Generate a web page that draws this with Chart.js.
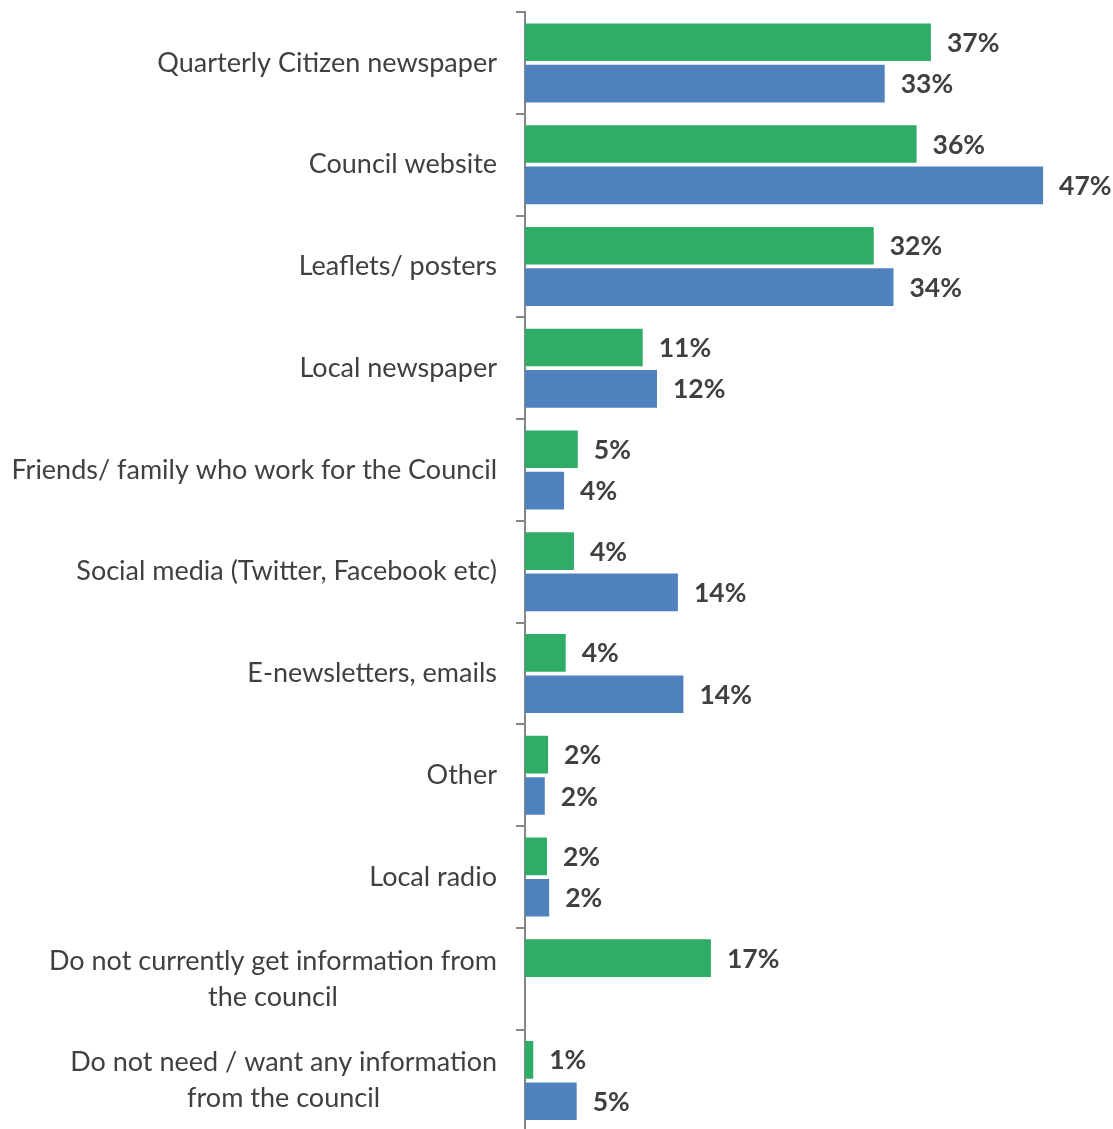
<!DOCTYPE html>
<html>
<head>
<meta charset="utf-8">
<script src="https://cdn.jsdelivr.net/npm/chart.js@4.4.1/dist/chart.umd.min.js"></script>
<style>
  html, body { margin: 0; padding: 0; background: #ffffff; overflow: hidden; }
  #wrap { width: 1113px; height: 1140px; }
</style>
</head>
<body>
<div id="wrap"><canvas id="c" width="1113" height="1140"></canvas></div>
<script>
const categories = [
  'Quarterly Citizen newspaper',
  'Council website',
  'Leaflets/ posters',
  'Local newspaper',
  'Friends/ family who work for the Council',
  'Social media (Twitter, Facebook etc)',
  'E-newsletters, emails',
  'Other',
  'Local radio',
  ['Do not currently get information from', 'the council'],
  ['Do not need / want any information', 'from the council']
];
const greenValues = [36.9, 35.6, 31.7, 10.7, 4.8, 4.45, 3.7, 2.1, 2.0, 16.9, 0.75];
const blueValues  = [32.7, 47.1, 33.5, 12.0, 3.55, 13.9, 14.4, 1.8, 2.2, null, 4.7];

const GREEN = '#2FAD66';
const BLUE = '#4F81BD';
const TEXT = '#404040';
const AXIS = '#868686';
const FONT = 'Lato, "Open Sans", sans-serif';
const TICK_LEN = 9;
const TICK_PAD = 19;
const LABEL_SIZE = 27;
const LINE_H = 36;

const valueLabels = {
  id: 'valueLabels',
  afterDatasetsDraw(chart) {
    const ctx = chart.ctx;
    ctx.save();
    ctx.font = 'bold 26.5px ' + FONT;
    ctx.fillStyle = TEXT;
    ctx.textAlign = 'left';
    ctx.textBaseline = 'middle';
    chart.data.datasets.forEach((ds, di) => {
      const meta = chart.getDatasetMeta(di);
      meta.data.forEach((bar, i) => {
        const v = ds.data[i];
        if (v === null || v === undefined) return;
        ctx.fillText(Math.round(v) + '%', bar.x + 16, bar.y + 1);
      });
    });
    ctx.restore();
  }
};

// multi-line category labels: right-aligned block, lines centred within it
const centredMultiLine = {
  id: 'centredMultiLine',
  afterDraw(chart) {
    const scale = chart.scales.y;
    const ctx = chart.ctx;
    ctx.save();
    ctx.font = LABEL_SIZE + 'px ' + FONT;
    ctx.fillStyle = TEXT;
    ctx.textAlign = 'center';
    ctx.textBaseline = 'middle';
    const rightX = scale.right - TICK_LEN - TICK_PAD;
    categories.forEach((lab, i) => {
      if (!Array.isArray(lab)) return;
      const y = scale.getPixelForTick(i);
      const w = Math.max(...lab.map(s => ctx.measureText(s).width));
      const cx = rightX - w / 2;
      lab.forEach((line, k) => {
        ctx.fillText(line, cx, y + (k - (lab.length - 1) / 2) * LINE_H);
      });
    });
    ctx.restore();
  }
};

new Chart(document.getElementById('c'), {
  type: 'bar',
  data: {
    labels: categories,
    datasets: [
      { label: 'Series 1', data: greenValues, backgroundColor: GREEN, borderWidth: 0,
        categoryPercentage: 0.813, barPercentage: 0.91 },
      { label: 'Series 2', data: blueValues, backgroundColor: BLUE, borderWidth: 0,
        categoryPercentage: 0.813, barPercentage: 0.91 }
    ]
  },
  options: {
    indexAxis: 'y',
    responsive: false,
    animation: false,
    devicePixelRatio: 1,
    layout: { padding: { top: 12, bottom: 8.5, left: 0, right: 38 } },
    plugins: {
      legend: { display: false },
      tooltip: { enabled: false }
    },
    scales: {
      x: { display: false, min: 0, max: 50 },
      y: {
        afterFit(scale) {
          scale.width = 525;
          scale.paddingTop = 0;
          scale.paddingBottom = 0;
        },
        grid: { display: true, drawOnChartArea: false, drawTicks: true, tickLength: TICK_LEN,
                color: AXIS, lineWidth: 2, offset: true },
        border: { display: true, color: AXIS, width: 2 },
        ticks: {
          padding: TICK_PAD,
          color: (c) => Array.isArray(categories[c.index]) ? 'rgba(0,0,0,0)' : TEXT,
          font: { family: FONT, size: LABEL_SIZE, lineHeight: LINE_H + 'px' }
        }
      }
    }
  },
  plugins: [valueLabels, centredMultiLine]
});
</script>
</body>
</html>
